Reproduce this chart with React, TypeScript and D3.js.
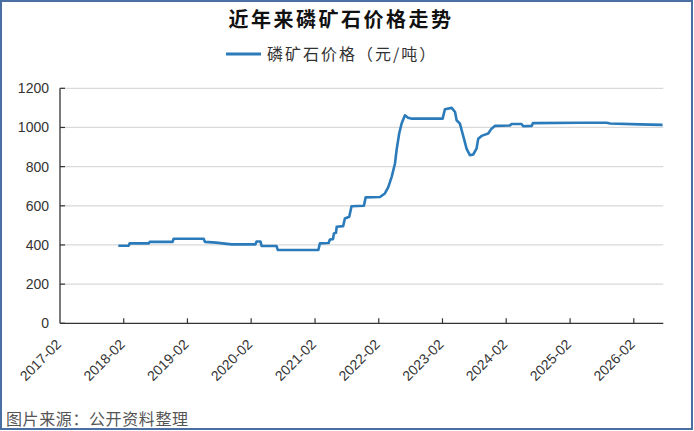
import React from "react";
import * as d3 from "d3";

const TITLE = "近年来磷矿石价格走势";
const SERIES_NAME = "磷矿石价格（元/吨）";
const SOURCE = "图片来源：公开资料整理";

const dates: string[] = [
  "2018-01-01","2018-03-01","2018-03-07","2018-06-25","2018-06-30","2018-11-08","2018-11-14",
  "2019-05-05","2019-05-12","2019-07-15","2019-10-11","2020-02-25","2020-03-03","2020-03-25",
  "2020-04-01","2020-06-25","2020-07-03","2021-02-20","2021-03-01","2021-04-20","2021-04-27",
  "2021-05-15","2021-05-20","2021-06-01","2021-06-05","2021-07-12","2021-07-22","2021-08-16",
  "2021-08-29","2021-11-08","2021-11-18","2022-02-08","2022-03-08","2022-03-27","2022-04-16",
  "2022-05-05","2022-05-14","2022-05-29","2022-06-12","2022-07-01","2022-07-19","2022-08-10",
  "2023-02-02","2023-02-15","2023-03-26","2023-04-14","2023-04-23","2023-05-12","2023-05-22",
  "2023-06-04","2023-06-19","2023-07-08","2023-07-27","2023-08-15","2023-08-25","2023-09-13",
  "2023-10-21","2023-11-09","2023-11-28","2024-02-22","2024-03-03","2024-04-29","2024-05-09",
  "2024-06-26","2024-07-03","2025-03-30","2025-08-29","2025-09-18","2026-03-08","2026-07-16",
];
const prices: number[] = [
  396,396,408,408,416,416,432,
  432,416,412,403,403,418,418,
  395,395,374,374,408,410,428,
  430,459,462,493,496,535,544,
  598,600,643,645,663,694,748,
  816,884,969,1020,1062,1050,1045,
  1045,1093,1100,1079,1037,1020,986,
  943,892,858,862,892,943,957,
  969,994,1008,1010,1018,1018,1006,
  1008,1022,1024,1024,1020,1016,1013,
];

const xTickLabels = ["2017-02","2018-02","2019-02","2020-02","2021-02","2022-02","2023-02","2024-02","2025-02","2026-02"];
const yTicks = [0, 200, 400, 600, 800, 1000, 1200];
const xDomain = ["2017-02-01", "2026-07-20"];

const W = 694, H = 431;
const LEFT = 60, RIGHT = 663.3, TOP = 88.3, BOTTOM = 323.3;

export default function App() {
  const parse = d3.timeParse("%Y-%m-%d");
  const parseM = d3.timeParse("%Y-%m");
  const x = d3.scaleTime().domain(xDomain.map((d) => parse(d) as Date)).range([LEFT, RIGHT]);
  const y = d3.scaleLinear().domain([0, 1200]).range([BOTTOM, TOP]);
  const pts = dates.map((d, i) => ({ t: parse(d) as Date, v: prices[i] }));
  const line = d3.line<{ t: Date; v: number }>().x((d) => x(d.t)).y((d) => y(d.v));
  const labelFont = "'Liberation Sans', Arial, sans-serif";
  const cjk = "'Noto Sans CJK SC', sans-serif";

  return (
    <svg width={W} height={H} style={{ position: "absolute", left: 0, top: 0, background: "#fff" }}>
      <rect x={1} y={1} width={W - 3} height={H - 3} fill="#fff" stroke="#4a6fa3" strokeWidth={2} />
      <text x={341} y={27} textAnchor="middle" fontFamily={cjk} fontWeight={700} fontSize={20} letterSpacing={2.5} fill="#111">
        {TITLE}
      </text>
      <line x1={226} x2={261} y1={54} y2={54} stroke="#2b7bba" strokeWidth={3} />
      <text x={267} y={59.5} fontFamily={cjk} fontSize={16} letterSpacing={2} fill="#333">
        {SERIES_NAME}
      </text>
      {yTicks.map((t) => (
        <g key={t}>
          {t > 0 && <line x1={LEFT} x2={RIGHT} y1={y(t)} y2={y(t)} stroke="#d9d9d9" strokeWidth={1.2} />}
          <line x1={LEFT} x2={LEFT + 5} y1={y(t)} y2={y(t)} stroke="#333" strokeWidth={1.2} />
          <text x={49} y={y(t) + 5} textAnchor="end" fontFamily={labelFont} fontSize={14} fill="#333">
            {t}
          </text>
        </g>
      ))}
      <path d={line(pts) || ""} fill="none" stroke="#2b7bba" strokeWidth={2.6} strokeLinejoin="round" />
      <line x1={LEFT} x2={LEFT} y1={TOP} y2={BOTTOM} stroke="#333" strokeWidth={1.3} />
      <line x1={LEFT} x2={RIGHT} y1={BOTTOM} y2={BOTTOM} stroke="#333" strokeWidth={1.3} />
      {xTickLabels.map((lab, i) => {
        const px = x(parseM(lab) as Date);
        return (
          <g key={lab}>
            {i > 0 && <line x1={px} x2={px} y1={BOTTOM} y2={BOTTOM - 5} stroke="#333" strokeWidth={1.2} />}
            <text
              transform={`translate(${px + 2},${BOTTOM + 22}) rotate(-45)`}
              textAnchor="end"
              fontFamily={labelFont}
              fontSize={14}
              fill="#333"
            >
              {lab}
            </text>
          </g>
        );
      })}
      <text x={6} y={425} fontFamily={cjk} fontSize={16} letterSpacing={0.6} fill="#555">
        {SOURCE}
      </text>
    </svg>
  );
}
